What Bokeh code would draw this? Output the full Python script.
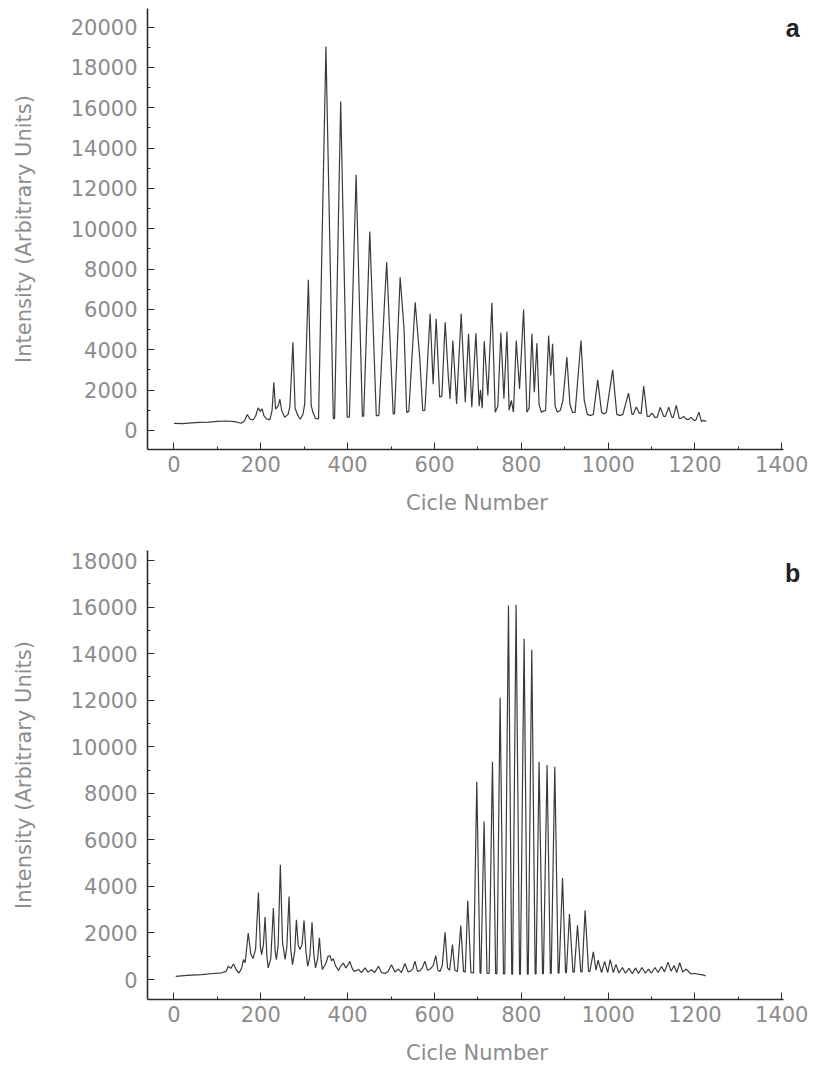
from bokeh.plotting import figure
from bokeh.layouts import column
from bokeh.models import Range1d, SingleIntervalTicker, Label
from bokeh.embed import file_html
from bokeh.resources import INLINE

# ---------------- data ----------------
# Panel a: cycle number vs intensity (peak / valley vertices)
a_x = [0, 20, 40, 60, 80, 100, 120, 140, 155, 162, 169, 175, 182, 188, 194, 199, 203, 207, 213, 221,
       226, 230, 234, 240, 244, 248, 255, 263, 267, 274, 279, 285, 291, 297, 301, 309.6, 316, 320, 326, 333,
       350, 367, 370, 384, 399, 404, 419.5, 434, 437, 451, 466, 472, 485, 490, 505, 508, 521, 530, 536, 541,
       555.6, 566, 573, 578, 590, 597, 604, 612, 617, 624.7, 632, 636, 642.4, 651, 661.6, 671, 678.5, 686, 695.5, 703,
       706, 710, 714.6, 723, 732.3, 740, 746, 753, 760, 767, 772, 777, 782, 788.4, 796, 805.3, 813, 818, 824.5, 830,
       836, 841, 846, 856, 863, 868, 872, 878, 883, 890, 896, 905, 912, 918, 924, 937.5, 945, 952, 960, 966,
       976, 985, 990, 996, 1010.5, 1020, 1028, 1034, 1047, 1055, 1058, 1065, 1072, 1076, 1082, 1090, 1095, 1101, 1108, 1113,
       1120, 1128, 1132, 1139.5, 1147, 1150, 1157, 1164, 1168, 1174, 1181, 1185, 1191, 1198, 1202, 1209, 1215, 1220, 1226]
a_y = [350, 340, 380, 400, 420, 450, 470, 440, 360, 470, 790, 560, 520, 720, 1120, 950, 1080, 740, 580, 540,
       1000, 2390, 1060, 1220, 1550, 990, 660, 800, 1200, 4380, 1100, 760, 560, 800, 1300, 7470, 1250, 900, 600, 580,
       19040, 580, 600, 16310, 660, 660, 12680, 700, 720, 9870, 740, 740, 6380, 8345, 820, 820, 7600, 5000, 900, 950,
       6360, 3640, 990, 1000, 5785, 2300, 5537, 1650, 1700, 5370, 2640, 1570, 4460, 1310, 5785, 1400, 4790, 1160, 4820, 1200,
       2000, 1100, 4430, 1740, 6330, 910, 1200, 4840, 1570, 4910, 1000, 1490, 910, 4460, 2060, 6000, 910, 1100, 4800, 1900,
       4330, 1300, 910, 1000, 4710, 2730, 4300, 1200, 910, 1000, 1500, 3640, 1300, 900, 900, 4460, 1500, 800, 740, 800,
       2510, 900, 820, 900, 3010, 800, 740, 800, 1850, 800, 800, 1160, 850, 850, 2200, 700, 700, 860, 650, 650,
       1150, 700, 700, 1150, 650, 650, 1250, 600, 600, 700, 550, 550, 650, 500, 500, 910, 450, 500, 450]

# Panel b
b_x = [4, 30, 64, 90, 110, 120, 125, 131, 137, 144, 150, 156, 160, 164, 171, 177, 182, 188, 194.5, 199,
       202, 206, 209.8, 214, 217, 223, 229, 233, 236, 240, 245, 250, 256, 260, 265, 269, 273, 278, 282, 286,
       290, 295, 299.6, 304, 308, 313, 318, 322, 326, 331, 335, 339, 342, 350, 355, 359.5, 363, 367, 372, 379,
       385, 390, 396, 400, 405, 410, 415, 425, 432, 440, 447, 455, 462, 471, 478, 486, 493, 501, 509, 517,
       524, 532, 539, 544, 550, 555, 561, 567, 572, 578, 584, 590, 597, 603, 608, 613, 618, 624.5, 630, 635,
       641.5, 647, 653, 660.6, 667, 671, 676.7, 684, 690, 697.5, 705, 707, 714.3, 721, 726, 733.6, 741, 744, 751.2, 759,
       762, 770.5, 778, 780, 788, 796, 798, 806.5, 814, 816, 824.2, 832, 834, 841, 849, 851, 859.4, 867, 869, 877.2,
       885, 887, 895, 902, 904, 911, 919, 922, 929.5, 937, 940, 947, 955, 958, 966, 972, 977, 985, 992, 999,
       1005, 1012, 1018, 1025, 1033, 1040, 1048, 1056, 1063, 1070, 1078, 1086, 1093, 1100, 1108, 1115, 1123, 1130, 1138, 1145,
       1152, 1158, 1165, 1172, 1180, 1190, 1200, 1210, 1218, 1225]
b_y = [140, 180, 210, 260, 290, 350, 570, 480, 670, 400, 280, 500, 860, 720, 2000, 1100, 900, 1300, 3743, 1400,
       1070, 1500, 2686, 1000, 500, 900, 3070, 1200, 860, 1500, 4930, 1600, 860, 1400, 3570, 1300, 640, 1200, 2570, 1500,
       1290, 1500, 2540, 1200, 570, 1000, 2460, 1100, 500, 900, 1790, 800, 430, 700, 1000, 1030, 800, 900, 600, 390,
       600, 710, 500, 600, 780, 500, 350, 430, 300, 500, 320, 420, 300, 570, 300, 260, 350, 640, 320, 450,
       300, 690, 330, 350, 450, 790, 350, 380, 500, 790, 400, 450, 600, 1030, 400, 350, 600, 2030, 500, 400,
       1500, 400, 350, 2315, 350, 320, 3386, 300, 280, 8500, 280, 280, 6786, 260, 260, 9357, 250, 250, 12100, 240,
       240, 16070, 230, 230, 16100, 230, 230, 14640, 230, 230, 14170, 240, 240, 9357, 250, 250, 9215, 260, 260, 9143,
       280, 280, 4357, 300, 300, 2814, 320, 320, 2330, 330, 330, 2970, 350, 350, 1186, 400, 830, 300, 780, 300,
       860, 300, 650, 280, 520, 270, 480, 250, 500, 260, 520, 270, 450, 280, 520, 300, 560, 330, 750, 360,
       600, 300, 720, 320, 450, 250, 260, 220, 200, 150]

x_title = "Cicle Number"
y_title = "Intensity (Arbitrary Units)"

FONT = "DejaVu Sans"
LABEL_COLOR = "#8c8c8c"
AXIS_COLOR = "#2b2b2b"
LINE_COLOR = "#3a3a3a"


def make_panel(xs, ys, yr, height, border_top, border_bottom, tag, tag_y):
    p = figure(width=812, height=height, x_range=Range1d(-61, 1457), y_range=Range1d(*yr),
               output_backend="svg", toolbar_location=None,
               min_border_left=147, min_border_right=6,
               min_border_top=border_top, min_border_bottom=border_bottom)
    p.outline_line_color = None
    p.grid.visible = False
    p.background_fill_color = "white"
    p.border_fill_color = "white"

    p.line(xs, ys, line_color=LINE_COLOR, line_width=1.2)

    p.xaxis.ticker = SingleIntervalTicker(interval=200, num_minor_ticks=2)
    p.yaxis.ticker = SingleIntervalTicker(interval=2000, num_minor_ticks=2)
    p.xaxis.bounds = (-61, 1404)
    for ax in (p.xaxis[0], p.yaxis[0]):
        ax.axis_line_color = AXIS_COLOR
        ax.axis_line_width = 1.6
        ax.major_tick_line_color = AXIS_COLOR
        ax.minor_tick_line_color = AXIS_COLOR
        ax.major_tick_in = 7
        ax.major_tick_out = 0
        ax.minor_tick_in = 3
        ax.minor_tick_out = 0
        ax.major_label_text_font = FONT
        ax.major_label_text_font_size = "21px"
        ax.major_label_text_color = LABEL_COLOR
        ax.axis_label_text_font = FONT
        ax.axis_label_text_font_size = "21px"
        ax.axis_label_text_font_style = "normal"
        ax.axis_label_text_color = LABEL_COLOR

    p.xaxis.axis_label = x_title
    p.yaxis.axis_label = y_title
    p.xaxis.major_label_standoff = 6
    p.xaxis.axis_label_standoff = 16
    p.yaxis.major_label_standoff = 10
    p.yaxis.axis_label_standoff = 32

    p.add_layout(Label(x=1425, y=tag_y, text=tag, text_font="Liberation Sans",
                       text_font_style="bold", text_font_size="25px", text_color="#222222",
                       text_align="center", text_baseline="alphabetic"))
    return p


pa = make_panel(a_x, a_y, (-942, 20922), 548, 8, 99, "a", 19935)
pb = make_panel(b_x, b_y, (-857, 18430), 519, 2, 67, "b", 17450)

layout = column(pa, pb, spacing=0)
open("out.html", "w").write(file_html(layout, INLINE))
